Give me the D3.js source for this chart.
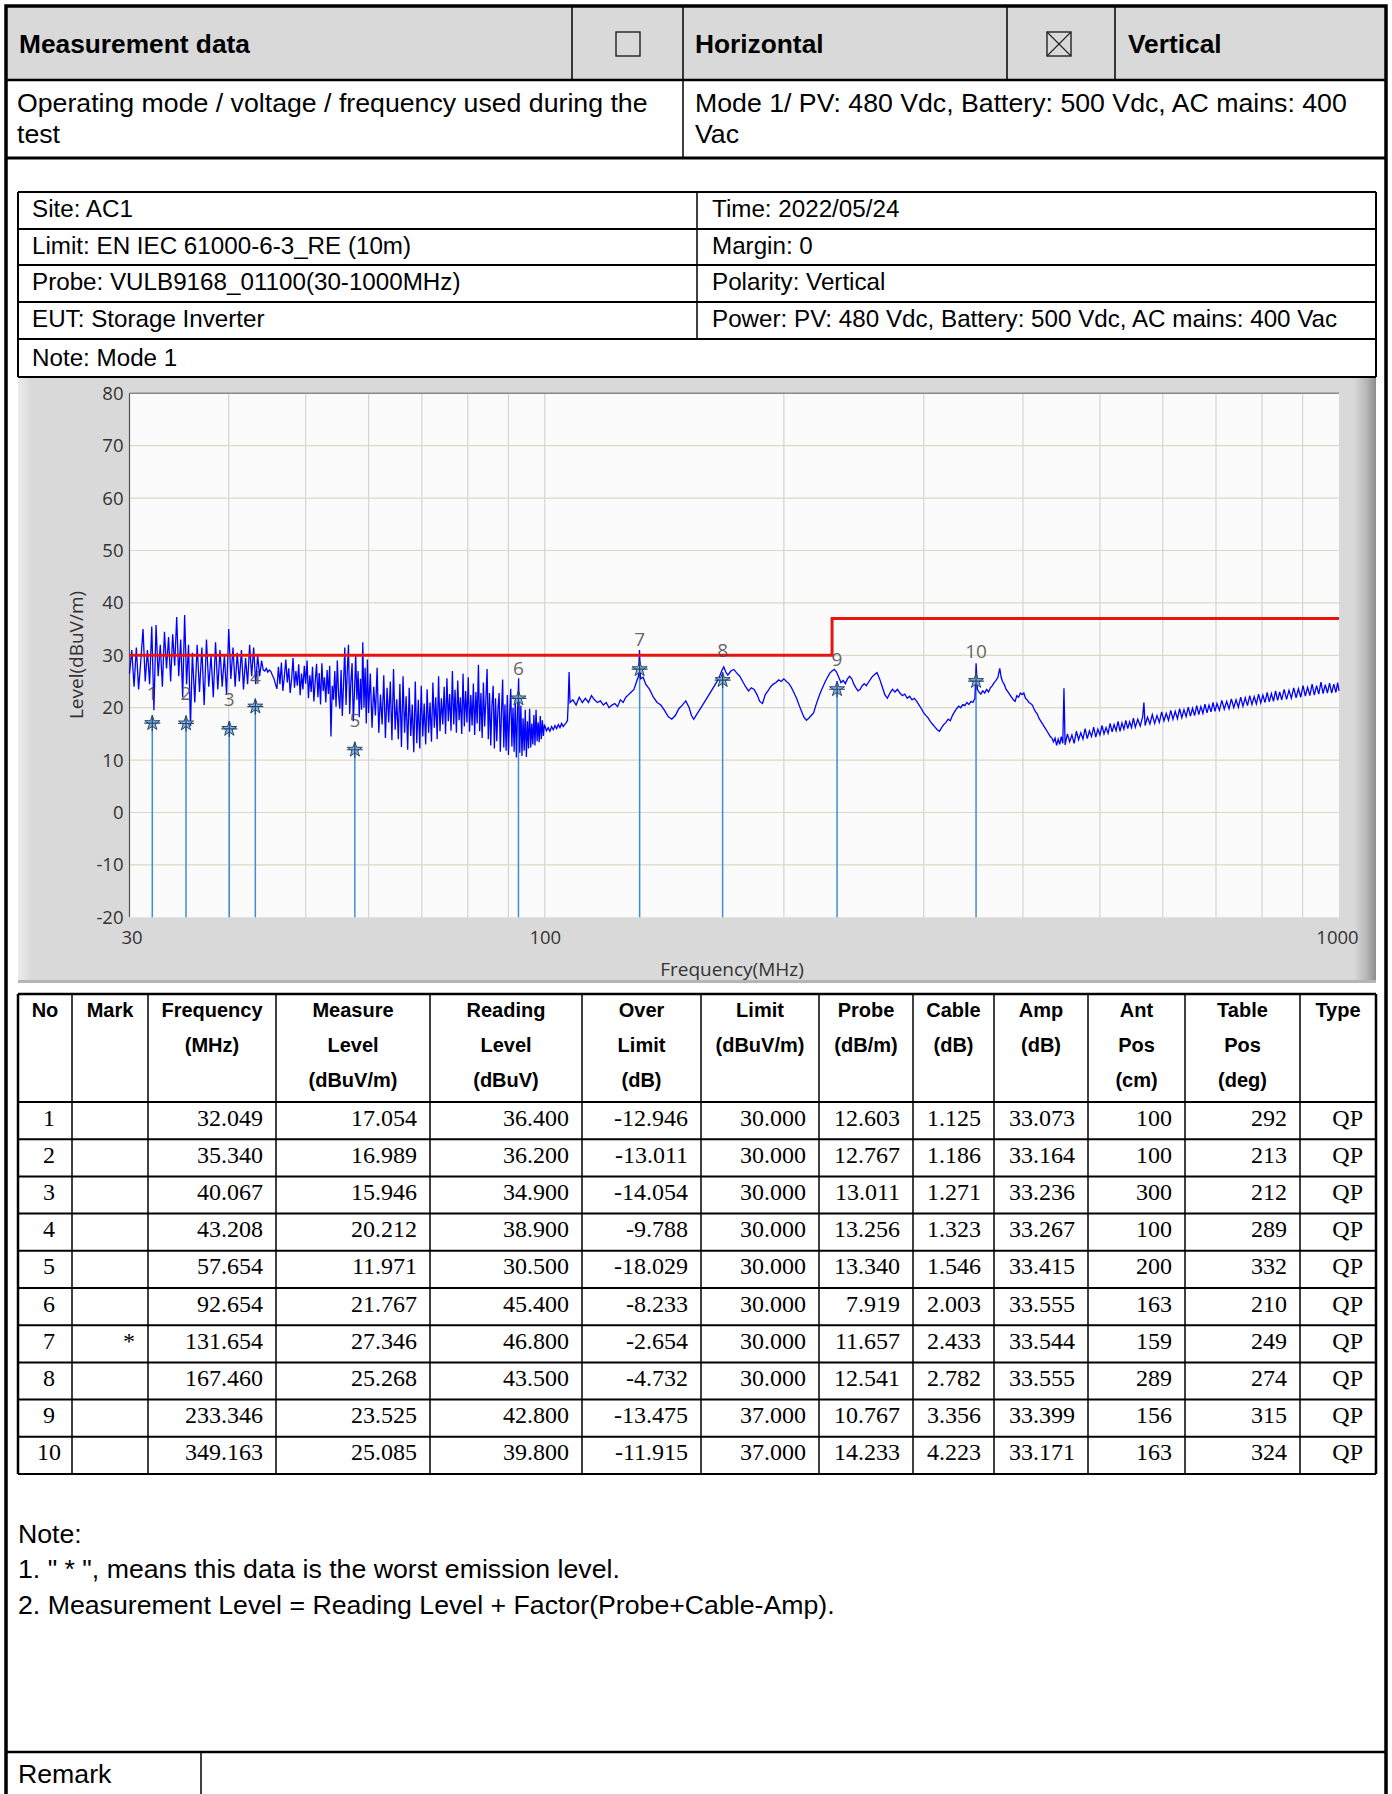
<!DOCTYPE html>
<html><head><meta charset="utf-8">
<script src="https://cdn.jsdelivr.net/npm/d3@7"></script>
<style>body{margin:0;background:#fff}svg{display:block}</style>
</head><body><svg id="c" width="1392" height="1794"></svg>
<script>
// ---------------- DATA ----------------
const headerTitle = "Measurement data";
const polarityOptions = ["Horizontal", "Vertical"];
const polarityChecked = [false, true];
const modeLabel = ["Operating mode / voltage / frequency used during the", "test"];
const modeValue = ["Mode 1/ PV: 480 Vdc, Battery: 500 Vdc, AC mains: 400", "Vac"];
const infoLeft = ["Site: AC1", "Limit: EN IEC 61000-6-3_RE (10m)", "Probe: VULB9168_01100(30-1000MHz)", "EUT: Storage Inverter"];
const infoRight = ["Time: 2022/05/24", "Margin: 0", "Polarity: Vertical", "Power: PV: 480 Vdc, Battery: 500 Vdc, AC mains: 400 Vac"];
const infoNote = "Note: Mode 1";

const yTicks = [-20, -10, 0, 10, 20, 30, 40, 50, 60, 70, 80];
const xTickLabels = [30, 100, 1000];
const xGridFreqs = [40, 50, 60, 70, 80, 90, 100, 200, 300, 400, 500, 600, 700, 800, 900];
const yTitle = "Level(dBuV/m)";
const xTitle = "Frequency(MHz)";

const limitFreq = [30, 230, 230, 1000];
const limitLevel = [30, 30, 37, 37];

// table columns
const colHeaders = [["No"], ["Mark"], ["Frequency", "(MHz)"], ["Measure", "Level", "(dBuV/m)"], ["Reading", "Level", "(dBuV)"],
  ["Over", "Limit", "(dB)"], ["Limit", "(dBuV/m)"], ["Probe", "(dB/m)"], ["Cable", "(dB)"], ["Amp", "(dB)"],
  ["Ant", "Pos", "(cm)"], ["Table", "Pos", "(deg)"], ["Type"]];
const markNo = [1, 2, 3, 4, 5, 6, 7, 8, 9, 10];
const markFlag = ["", "", "", "", "", "", "*", "", "", ""];
const frequency = [32.049, 35.340, 40.067, 43.208, 57.654, 92.654, 131.654, 167.460, 233.346, 349.163];
const measureLevel = [17.054, 16.989, 15.946, 20.212, 11.971, 21.767, 27.346, 25.268, 23.525, 25.085];
const readingLevel = [36.400, 36.200, 34.900, 38.900, 30.500, 45.400, 46.800, 43.500, 42.800, 39.800];
const overLimit = [-12.946, -13.011, -14.054, -9.788, -18.029, -8.233, -2.654, -4.732, -13.475, -11.915];
const limitVal = [30.000, 30.000, 30.000, 30.000, 30.000, 30.000, 30.000, 30.000, 37.000, 37.000];
const probe = [12.603, 12.767, 13.011, 13.256, 13.340, 7.919, 11.657, 12.541, 10.767, 14.233];
const cable = [1.125, 1.186, 1.271, 1.323, 1.546, 2.003, 2.433, 2.782, 3.356, 4.223];
const amp = [33.073, 33.164, 33.236, 33.267, 33.415, 33.555, 33.544, 33.555, 33.399, 33.171];
const antPos = [100, 100, 300, 100, 200, 163, 159, 289, 156, 163];
const tablePos = [292, 213, 212, 289, 332, 210, 249, 274, 315, 324];
const detType = ["QP", "QP", "QP", "QP", "QP", "QP", "QP", "QP", "QP", "QP"];

const notes = ["Note:", "1. \" * \", means this data is the worst emission level.", "2. Measurement Level = Reading Level + Factor(Probe+Cable-Amp)."];
const remarkLabel = "Remark";

// spectrum trace: [MHz, dBuV/m]
const spectrumTrace = [
[30.0,26.5],[30.2,31.0],[30.4,24.0],[30.6,31.5],[30.8,23.5],[31.0,29.0],[31.2,35.0],[31.4,25.0],[31.6,31.0],[31.8,24.5],
[32.0,35.5],[32.2,19.5],[32.4,35.8],[32.6,26.0],[32.8,32.0],[33.0,24.0],[33.2,34.5],[33.4,27.5],[33.6,33.5],[33.8,25.0],
[34.0,34.0],[34.2,28.0],[34.4,37.3],[34.6,26.0],[34.8,33.0],[35.0,22.0],[35.2,37.7],[35.4,24.5],[35.6,32.0],[35.8,16.5],
[36.0,30.5],[36.25,21.0],[36.5,32.0],[36.75,23.0],[37.0,31.5],[37.25,20.5],[37.5,33.0],[37.75,24.0],[38.0,30.0],[38.25,22.0],
[38.5,32.5],[38.75,23.5],[39.0,31.0],[39.25,24.0],[39.5,30.0],[39.75,22.5],[40.0,35.0],[40.25,25.5],[40.5,31.5],[40.75,24.0],
[41.0,30.5],[41.25,25.0],[41.5,31.0],[41.75,23.5],[42.0,29.5],[42.25,24.5],[42.5,32.0],[42.75,26.0],[43.0,31.5],[43.25,24.5],
[43.5,30.0],[43.75,26.0],
[44.0,29.0],[44.2,27.2],[44.4,27.0],[44.6,27.5],[44.8,26.8],[45.0,27.2],[45.2,26.9],[45.4,26.2],[45.6,25.6],[45.8,24.5],
[46.0,23.6],[46.2,27.8],[46.4,24.5],[46.6,28.6],[46.8,23.2],[47.0,26.0],[47.2,29.2],[47.4,24.8],[47.6,27.5],[47.8,22.8],
[48.0,25.5],[48.2,29.5],[48.4,23.8],[48.6,27.0],[48.8,24.2],[49.0,28.3],[49.2,22.4],[49.4,26.5],[49.6,23.5],[49.8,28.0],
[50.0,24.6],[50.2,29.0],[50.4,21.8],[50.6,26.2],[50.8,23.0],[51.0,27.8],[51.2,21.2],[51.4,25.0],[51.6,28.4],[51.8,22.0],
[52.0,26.6],[52.2,20.6],[52.4,28.5],[52.6,23.2],[52.8,25.8],[53.0,21.0],[53.2,27.2],[53.4,22.6],[53.6,28.0],[53.8,14.5],
[54.0,24.2],[54.2,21.5],[54.4,27.0],[54.6,20.2],[54.8,29.0],[55.0,22.5],[55.2,19.8],[55.4,27.2],[55.6,18.4],[55.8,24.6],
[56.0,31.5],[56.2,20.5],[56.4,26.8],[56.6,32.0],[56.8,18.8],[57.0,25.0],[57.2,28.5],[57.4,17.4],[57.6,23.0],[57.8,30.2],
[58.0,21.5],[58.2,27.0],[58.4,18.2],[58.6,25.5],[58.8,19.6],[59.0,32.5],[59.2,20.0],[59.4,27.6],[59.6,17.0],[59.8,29.2],
[60.0,19.0],[60.3,26.5],[60.6,16.2],[60.9,24.0],[61.2,18.5],[61.5,27.6],[61.8,15.2],[62.1,22.5],[62.4,16.8],[62.7,26.2],
[63.0,14.2],[63.3,23.8],[63.6,17.2],[63.9,25.0],[64.2,13.8],[64.5,27.4],[64.8,15.8],[65.1,21.6],[65.4,14.0],[65.7,24.5],
[66.0,12.5],[66.3,26.0],[66.6,15.2],[66.9,22.2],[67.2,12.0],[67.5,23.8],[67.8,14.6],[68.1,20.6],[68.4,11.5],[68.7,25.0],
[69.0,13.2],[69.3,21.5],[69.6,12.2],[69.9,24.2],[70.2,14.5],[70.5,20.8],[70.8,13.0],[71.1,23.5],[71.4,15.2],[71.7,21.0],
[72.0,13.5],[72.3,24.8],[72.6,16.2],[72.9,22.0],[73.2,14.0],[73.5,26.0],[73.8,15.5],[74.1,21.8],[74.4,16.8],[74.7,24.0],
[75.0,15.0],[75.3,25.6],[75.6,17.4],[75.9,22.6],[76.2,15.6],[76.5,27.0],[76.8,16.8],[77.1,23.4],[77.4,15.2],[77.7,25.2],
[78.0,17.6],[78.3,22.0],[78.6,15.0],[78.9,26.5],[79.2,16.4],[79.5,23.2],[79.8,17.2],[80.1,25.8],[80.4,15.4],[80.7,22.4],
[81.0,16.6],[81.3,24.6],[81.6,14.8],[81.9,23.0],[82.2,17.0],[82.5,28.2],[82.8,15.5],[83.1,22.8],[83.4,14.2],[83.7,24.8],
[84.0,16.4],[84.3,21.5],[84.6,27.4],[84.9,14.0],[85.2,22.8],[85.5,12.8],[85.8,20.4],[86.1,24.2],[86.4,12.2],[86.7,21.8],
[87.0,13.6],[87.3,19.6],[87.6,22.8],[87.9,11.6],[88.2,19.0],[88.5,25.4],[88.8,12.4],[89.1,20.6],[89.4,11.8],[89.7,22.4],
[90.0,11.0],[90.3,18.6],[90.6,23.6],[90.9,12.6],[91.2,20.0],[91.5,11.6],[91.8,21.6],[92.1,10.5],[92.4,19.2],[92.7,25.6],
[93.0,11.4],[93.3,20.4],[93.6,10.8],[93.9,18.0],[94.2,11.8],[94.5,19.6],[94.8,10.6],[95.1,17.4],[95.4,12.2],[95.7,19.8],
[96.0,12.4],[96.3,17.0],[96.6,13.0],[96.9,18.6],[97.2,12.8],[97.5,19.6],[97.8,13.6],[98.1,17.2],[98.4,13.4],[98.7,18.4],
[99.0,14.0],[99.3,17.6],[99.6,14.6],[99.9,16.8],[100.5,15.6],[101,16.2],[101.5,15.5],[102,16.4],[102.5,15.8],[103,16.6],
[103.5,16.0],[104,16.8],[104.5,16.2],[105,17.0],[105.5,16.4],[106,16.8],[106.5,17.2],[106.8,17.6],
[107.0,20.5],[107.3,26.8],[107.6,21.0],[108.5,21.5],[109.5,20.5],[110.5,22.0],[111.5,21.0],[112.5,21.8],[113.5,21.0],
[114.5,22.3],[115.5,21.5],[116.5,21.0],[117.5,21.3],[118.5,20.5],[119.5,21.0],[120.5,20.0],[121.5,20.5],[122.5,20.8],[123.5,20.2],
[124.5,21.5],[125.5,21.0],[126.5,22.0],[127.5,22.5],[128.5,23.0],[129.5,23.5],[130.5,25.0],[131.2,26.0],[131.6,31.0],[132.0,25.5],
[133.0,25.8],[134.0,24.5],[135.5,23.5],[137.0,22.0],[138.5,21.0],[140.0,20.5],[141.5,19.5],[143.0,18.3],[144.5,17.8],[146.0,18.5],
[147.5,19.8],[149.0,20.5],[150.5,21.3],[152.0,20.0],[153.0,18.5],[154.0,17.8],[155.0,18.5],[156.5,19.5],[158.0,20.5],[159.5,21.5],
[161.0,22.5],[162.5,23.5],[164.0,24.5],[165.5,25.5],[167.0,27.0],[168.0,27.8],[169.0,26.8],[170.0,26.2],[171.5,27.0],[173.0,27.3],
[174.5,26.6],[176.0,26.0],[177.5,25.0],[179.0,24.0],[180.5,23.2],[182.0,23.8],[183.5,23.5],[185.0,22.5],[186.5,21.2],[188.0,20.8],
[189.5,22.5],[191.0,23.2],[192.5,24.0],[194.0,24.5],[195.5,24.8],[197.0,25.3],[198.5,25.0],[200.0,25.5],[201.5,25.0],[203.0,24.6],
[204.5,23.8],[206.0,22.8],[207.5,21.8],[209.0,20.5],[210.5,19.3],[212.0,18.2],[213.5,17.6],[215.0,18.0],[216.5,18.5],[218.0,19.0],
[219.5,20.5],[221.0,21.8],[222.5,23.0],[224.0,24.0],[225.5,25.0],[227.0,25.8],[228.5,26.6],[230.0,27.0],[231.5,27.3],[233.0,26.8],
[234.5,25.8],[236.0,24.8],[237.5,25.2],[239.0,24.6],[240.5,25.5],[242.0,26.0],[243.5,25.5],[245.0,24.5],[246.5,23.8],[248.0,23.2],
[249.5,23.5],[251.0,24.2],[252.5,24.6],[254.0,24.2],[256.0,25.0],[258.0,25.8],[260.0,26.3],[262.0,26.7],[264.0,25.5],[266.0,24.0],
[268.0,22.5],[270.0,21.8],[272.0,22.8],[274.0,23.5],[276.0,23.0],[278.0,23.5],[280.0,22.8],[282.0,22.3],[284.0,22.6],[286.0,21.8],
[288.0,22.2],[290.0,21.5],[292.0,21.8],[294.0,21.2],[296.0,20.5],[298.0,19.8],[300.0,19.0],[302.0,18.5],[304.0,18.0],[306.0,17.3],
[308.0,16.8],[310.0,16.3],[312.0,15.8],[314.0,15.5],[316.0,16.2],[318.0,16.8],[320.0,17.2],[322.0,17.8],[324.0,17.5],[326.0,18.5],
[328.0,19.2],[330.0,19.8],[332.0,20.3],[334.0,20.0],[336.0,20.6],[338.0,20.4],[340.0,21.0],[342.0,20.6],[344.0,21.2],[346.0,21.0],
[348.0,21.8],[349.2,28.5],[350.5,23.5],[352.0,23.0],[354.0,22.6],[356.0,23.2],[358.0,22.8],[360.0,23.5],[362.0,23.0],[364.0,23.8],
[366.0,24.2],[368.0,24.8],[370.0,25.2],[372.0,25.8],[374.0,27.5],[375.5,25.8],[377.0,25.0],[379.0,24.4],[381.0,23.5],[383.0,23.0],
[385.0,22.5],[387.0,22.0],[389.0,21.5],[391.0,21.2],[393.0,22.3],[395.0,22.0],[397.0,22.8],[399.0,22.5],[401.0,22.8],[403.0,21.8],
[405.0,21.5],[407.0,21.0],[409.0,20.8],[411.0,20.5],[413.0,19.8],[415.0,19.2],[417.0,18.8],[419.0,18.0],[421.0,17.5],[423.0,17.0],
[425.0,16.5],[427.0,16.0],[429.0,15.5],[431.0,15.0],[433.0,14.5],[435.0,14.2],[437.0,13.5],[439.0,14.2],[441.0,12.8],[443.0,14.0],
[445.0,13.0],[447.0,14.5],[449.0,13.2],[450.5,23.7],
[452,12.9],[455,15.0],[458,13.5],[461,14.8],[464,13.2],[467,15.5],[470,13.9],[473,15.2],[476,14.0],[479,16.0],
[482,14.1],[485,15.6],[488,14.5],[491,16.3],[494,14.4],[497,15.9],[500,14.8],[503,16.6],[506,15.0],[509,16.2],
[512,15.1],[515,17.0],[518,15.4],[521,16.8],[524,15.6],[527,17.4],[530,15.5],[533,17.1],[536,15.9],[539,17.6],
[542,16.0],[545,17.3],[548,16.2],[551,18.0],[554,16.3],[558,17.8],[562,16.5],[566,18.3],[568,21.0],[570,16.6],
[574,18.2],[578,16.9],[582,18.7],[586,17.0],[590,18.5],[594,17.2],[598,19.2],[602,17.5],[606,18.9],[610,17.6],
[614,19.5],[618,17.8],[622,19.3],[626,17.9],[630,19.8],[634,18.1],[638,19.6],[642,18.3],[646,20.1],[650,18.4],
[654,19.9],[658,18.5],[662,20.4],[666,18.7],[670,20.2],[674,18.9],[678,20.7],[682,19.0],[686,20.5],[690,19.2],
[694,21.0],[698,19.3],[702,20.8],[707,19.5],[712,21.4],[717,19.7],[722,21.2],[727,19.8],[732,21.7],[737,20.0],
[742,21.5],[747,20.1],[752,22.0],[757,20.3],[762,21.9],[767,20.4],[772,22.3],[777,20.6],[782,22.1],[787,20.7],
[792,22.6],[797,20.9],[802,22.4],[807,21.0],[812,22.9],[817,21.1],[822,22.7],[827,21.2],[832,23.2],[837,21.4],
[842,23.0],[847,21.5],[853,23.5],[859,21.6],[865,23.3],[871,21.8],[877,23.8],[883,21.9],[889,23.6],[895,22.0],
[901,24.2],[907,22.2],[913,23.9],[919,22.3],[925,24.5],[931,22.4],[937,24.2],[943,22.6],[949,24.9],[955,22.7],
[961,24.4],[967,22.8],[973,24.7],[979,22.8],[985,24.5],[991,22.9],[996,24.8],[1000,23.2]
];

// ---------------- DRAWING ----------------
const SANS = "'Liberation Sans', Arial, sans-serif";
const SERIF = "'Liberation Serif', 'Times New Roman', serif";
const CHART = "'Open Sans', 'Noto Sans', sans-serif";
const svg = d3.select("#c");

function hline(x1, x2, y, w) { svg.append("line").attr("x1", x1).attr("x2", x2).attr("y1", y).attr("y2", y).attr("stroke", "#000").attr("stroke-width", w); }
function vline(x, y1, y2, w) { svg.append("line").attr("x1", x).attr("x2", x).attr("y1", y1).attr("y2", y2).attr("stroke", "#000").attr("stroke-width", w); }
function text(x, y, s, size, opts = {}) {
  return svg.append("text").attr("x", x).attr("y", y).attr("dominant-baseline", "central")
    .attr("font-family", opts.family || SANS).attr("font-size", size).attr("font-weight", opts.bold ? "bold" : "normal")
    .attr("text-anchor", opts.anchor || "start").attr("fill", opts.fill || "#000").text(s);
}

// header row background
svg.append("rect").attr("x", 6).attr("y", 6).attr("width", 1380).attr("height", 74).attr("fill", "#d9d9d9");
text(19, 44, headerTitle, 26.3, { bold: true });
text(695, 44, polarityOptions[0], 26.3, { bold: true });
text(1128, 44, polarityOptions[1], 26.3, { bold: true });
const boxCenters = [628, 1059];
boxCenters.forEach((cx, i) => {
  svg.append("rect").attr("x", cx - 12).attr("y", 32).attr("width", 24).attr("height", 24).attr("fill", "none").attr("stroke", "#222").attr("stroke-width", 1.4);
  if (polarityChecked[i]) {
    svg.append("line").attr("x1", cx - 12).attr("y1", 32).attr("x2", cx + 12).attr("y2", 56).attr("stroke", "#222").attr("stroke-width", 1.1);
    svg.append("line").attr("x1", cx + 12).attr("y1", 32).attr("x2", cx - 12).attr("y2", 56).attr("stroke", "#222").attr("stroke-width", 1.1);
  }
});
[572, 683, 1007, 1115].forEach(x => vline(x, 6, 80, 1.5));
hline(6, 1386, 80, 2.5);
text(17, 103, modeLabel[0], 26.7); text(17, 134, modeLabel[1], 26.7);
text(695, 103, modeValue[0], 26.7); text(695, 134, modeValue[1], 26.7);
vline(683, 80, 158, 1.5);
hline(6, 1386, 158, 3);

// info table
const infoRows = [192, 229, 265, 302, 339, 377];
for (let i = 0; i < 4; i++) {
  const cy = (infoRows[i] + infoRows[i + 1]) / 2 - 2;
  text(32, cy, infoLeft[i], 24.2);
  text(712, cy, infoRight[i], 24.2);
}
text(32, (infoRows[4] + infoRows[5]) / 2 - 1, infoNote, 24.2);

// chart panel
const defs = svg.append("defs");
const gR = defs.append("linearGradient").attr("id", "bevR");
gR.append("stop").attr("offset", "0").attr("stop-color", "#d9d9d9");
gR.append("stop").attr("offset", "0.55").attr("stop-color", "#b8b8b8");
gR.append("stop").attr("offset", "1").attr("stop-color", "#8c8c8c");
const gL = defs.append("linearGradient").attr("id", "bevL");
gL.append("stop").attr("offset", "0").attr("stop-color", "#ececec");
gL.append("stop").attr("offset", "1").attr("stop-color", "#d9d9d9");
svg.append("rect").attr("x", 18).attr("y", 378).attr("width", 1358).attr("height", 605).attr("fill", "#d9d9d9");
svg.append("rect").attr("x", 18).attr("y", 378).attr("width", 14).attr("height", 605).attr("fill", "url(#bevL)");
svg.append("rect").attr("x", 1354).attr("y", 378).attr("width", 22).attr("height", 605).attr("fill", "url(#bevR)");
svg.append("rect").attr("x", 18).attr("y", 980).attr("width", 1358).attr("height", 3).attr("fill", "#b5b5b5");

const x = d3.scaleLog().domain([30, 1000]).range([129.5, 1339]);
const y = d3.scaleLinear().domain([-20, 80]).range([917.3, 393.3]);

svg.append("rect").attr("x", x(30)).attr("y", y(80)).attr("width", x(1000) - x(30)).attr("height", y(-20) - y(80)).attr("fill", "#fbfbfb");
const grid = svg.append("g");
grid.selectAll("line.v").data(xGridFreqs).join("line")
  .attr("x1", d => x(d)).attr("x2", d => x(d)).attr("y1", y(80)).attr("y2", y(-20))
  .attr("stroke", "#d4d4d4").attr("stroke-width", 1.2);
grid.selectAll("line.h").data(yTicks.filter(d => d > -20 && d < 80)).join("line")
  .attr("x1", x(30)).attr("x2", x(1000)).attr("y1", d => y(d)).attr("y2", d => y(d))
  .attr("stroke", "#dcd8c6").attr("stroke-width", 1.2);
svg.append("line").attr("x1", x(30)).attr("x2", x(1000)).attr("y1", y(80)).attr("y2", y(80)).attr("stroke", "#8a8a8a").attr("stroke-width", 1.5);
svg.append("line").attr("x1", x(30)).attr("x2", x(30)).attr("y1", y(80)).attr("y2", y(-20)).attr("stroke", "#555").attr("stroke-width", 1.2);

// axes labels
const yAxis = d3.axisLeft(y).tickValues(yTicks).tickFormat(d => String(d)).tickSize(0).tickPadding(6);
const gy = svg.append("g").attr("transform", `translate(${x(30)},0)`).call(yAxis);
gy.select(".domain").remove();
gy.selectAll("text").attr("font-family", CHART).attr("font-size", 18.5).attr("fill", "#333");
const xAxis = d3.axisBottom(x).tickValues(xTickLabels).tickFormat(d => String(d)).tickSize(0).tickPadding(14);
const gx = svg.append("g").attr("transform", `translate(0,${y(-20)})`).call(xAxis);
gx.select(".domain").remove();
gx.selectAll("text").attr("font-family", CHART).attr("font-size", 18.5).attr("fill", "#333")
  .attr("dx", d => d === 1000 ? -2 : (d === 30 ? 2 : 0));
svg.append("text").attr("transform", `translate(76,655) rotate(-90)`).attr("text-anchor", "middle").attr("dominant-baseline", "central")
  .attr("font-family", CHART).attr("font-size", 19).attr("fill", "#333").text(yTitle);
svg.append("text").attr("x", 732).attr("y", 969).attr("text-anchor", "middle").attr("dominant-baseline", "central")
  .attr("font-family", CHART).attr("font-size", 19).attr("fill", "#333").text(xTitle);

// marker vertical lines
const markers = frequency.map((f, i) => ({ f, l: measureLevel[i], n: markNo[i] }));
svg.append("g").selectAll("line").data(markers).join("line")
  .attr("x1", d => x(d.f)).attr("x2", d => x(d.f)).attr("y1", d => y(d.l)).attr("y2", y(-20))
  .attr("stroke", "#3d8ddb").attr("stroke-width", 1.5);

// trace
const lineGen = d3.line().x(d => x(d[0])).y(d => y(d[1]));
svg.append("path").attr("d", lineGen(spectrumTrace)).attr("fill", "none").attr("stroke", "#0000ff").attr("stroke-width", 1.3).attr("stroke-linejoin", "miter");

// limit line
const limitPts = limitFreq.map((f, i) => [f, limitLevel[i]]);
svg.append("path").attr("d", lineGen(limitPts)).attr("fill", "none").attr("stroke", "#e8140f").attr("stroke-width", 3);

// markers stars and labels
const mg = svg.append("g");
mg.selectAll("path.star").data(markers).join("path")
  .attr("transform", d => `translate(${x(d.f)},${y(d.l)})`)
  .attr("d", d3.symbol(d3.symbolStar, 70)())
  .attr("fill", "#8db8e0").attr("stroke", "#24456e").attr("stroke-width", 1);
mg.selectAll("path.plus").data(markers).join("path")
  .attr("transform", d => `translate(${x(d.f)},${y(d.l)})`)
  .attr("d", "M-8,0H8M0,-8V8").attr("stroke", "#24456e").attr("stroke-width", 1.2);
mg.selectAll("text").data(markers).join("text")
  .attr("x", d => x(d.f)).attr("y", d => y(d.l) - 30).attr("text-anchor", "middle").attr("dominant-baseline", "central")
  .attr("font-family", CHART).attr("font-size", 19).attr("fill", "#4a4a4a").attr("fill-opacity", 0.85).text(d => d.n);

// data table
const cols = [18, 72, 148, 276, 430, 582, 701, 819, 913, 994, 1088, 1185, 1300, 1376];
const tTop = 994, hBottom = 1102, rowH = 37.2;
const headLineY = [1010, 1045, 1080];
colHeaders.forEach((lines, c) => {
  const cx = (cols[c] + cols[c + 1]) / 2;
  lines.forEach((s, k) => text(cx, headLineY[k], s, 20, { bold: true, anchor: "middle" }));
});
const rowsData = markNo.map((n, i) => [String(n), markFlag[i], frequency[i].toFixed(3), measureLevel[i].toFixed(3), readingLevel[i].toFixed(3),
  overLimit[i].toFixed(3), limitVal[i].toFixed(3), probe[i].toFixed(3), cable[i].toFixed(3), amp[i].toFixed(3),
  String(antPos[i]), String(tablePos[i]), detType[i]]);
rowsData.forEach((r, i) => {
  const cy = hBottom + rowH * i + rowH / 2 - 3;
  r.forEach((s, c) => {
    if (!s) return;
    if (c === 0) text(49, cy, s, 24, { family: SERIF, anchor: "middle" });
    else text(cols[c + 1] - 13, cy, s, 24, { family: SERIF, anchor: "end" });
  });
});
for (let i = 0; i <= 10; i++) hline(18, 1376, hBottom + rowH * i, 2);
hline(18, 1376, tTop, 2.5);
cols.forEach((cx, i) => vline(cx, tTop, hBottom + rowH * 10, (i === 0 || i === cols.length - 1) ? 2.5 : 1.5));

// info table lines
infoRows.forEach(yy => hline(18, 1376, yy, 2));
vline(18, 192, 377, 2); vline(1376, 192, 377, 2);
vline(697, 192, 339, 1.5);

// notes
text(18, 1534, notes[0], 26.7);
text(18, 1569, notes[1], 26.7);
text(18, 1605, notes[2], 26.7);

// remark row
hline(6, 1386, 1752, 2.5);
vline(201, 1752, 1794, 1.5);
text(18, 1774, remarkLabel, 26.7);

// outer border
svg.append("rect").attr("x", 6).attr("y", 6).attr("width", 1380).attr("height", 1800).attr("fill", "none").attr("stroke", "#000").attr("stroke-width", 3.5);
</script></body></html>
